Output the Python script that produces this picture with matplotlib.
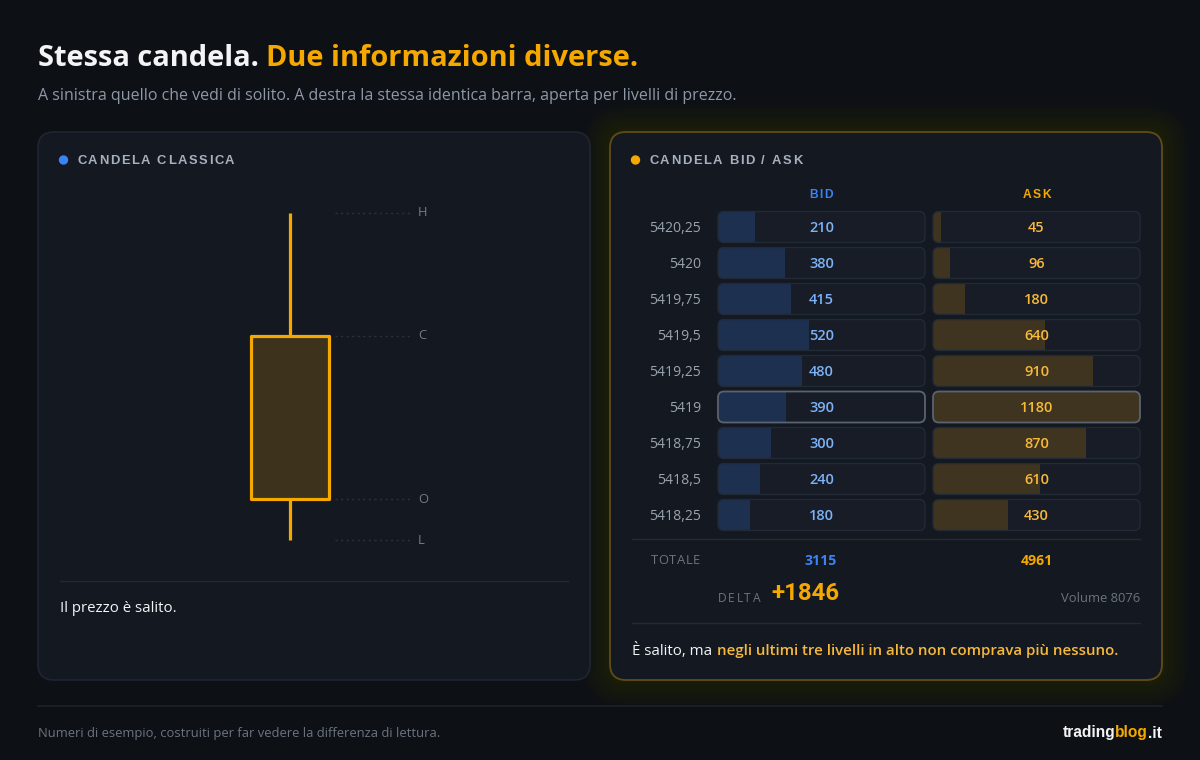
import matplotlib.pyplot as plt
from matplotlib.patches import FancyBboxPatch, Circle
from matplotlib.transforms import blended_transform_factory

# price levels of the candle, top to bottom
prices = ['5420,25', '5420', '5419,75', '5419,5', '5419,25', '5419', '5418,75', '5418,5', '5418,25']
bid = [210, 380, 415, 520, 480, 390, 300, 240, 180]
ask = [45, 96, 180, 640, 910, 1180, 870, 610, 430]
poc = '5419'

ohlc_labels = ['H', 'C', 'O', 'L']
ohlc_values = [5420.25, 5419.5, 5418.5, 5418.25]

BG = '#0d1015'
PANEL = '#131821'
EDGE = '#1f2632'
ORANGE = '#f5a800'
BLUE = '#3b82f6'
LBLUE = '#7cb2f7'
GOLD = '#f8b93a'
MUTED = '#6b7480'
SUB = '#8d98a8'
WHITE = '#f3f4f6'
HEAD = '#a7b0bd'

SANS = ['Open Sans', 'DejaVu Sans']
ARIAL = ['Liberation Sans', 'DejaVu Sans']
ROBOTO = ['Roboto', 'DejaVu Sans']

W, H = 1200, 760
fig = plt.figure(figsize=(12, 7.6), dpi=100, facecolor=BG)
ax = fig.add_axes([0, 0, 1, 1])
ax.set_xlim(0, W)
ax.set_ylim(H, 0)
ax.axis('off')
rend = fig.canvas.get_renderer()


def frac(x0, y0, x1, y1):
    return [x0 / W, 1 - y1 / H, (x1 - x0) / W, (y1 - y0) / H]


def pt(px):
    return px * 0.72


def put(x, y, s, size, color, weight='normal', family=SANS):
    t = ax.text(x, y, s, color=color, fontsize=pt(size), fontweight=weight,
                family=family, va='center', ha='left', zorder=4)
    return x + t.get_window_extent(rend).width


def tracked(x, y, s, size, color, family=ARIAL, weight='bold', track=1.2, ha='left'):
    widths = []
    for ch in s:
        if ch == ' ':
            widths.append(size * 0.28)
            continue
        t = ax.text(0, 0, ch, fontsize=pt(size), fontweight=weight, family=family)
        widths.append(t.get_window_extent(rend).width)
        t.remove()
    total = sum(widths) + track * (len(s) - 1)
    if ha == 'center':
        x -= total / 2
    elif ha == 'right':
        x -= total
    for ch, w in zip(s, widths):
        if ch != ' ':
            ax.text(x, y, ch, fontsize=pt(size), fontweight=weight, family=family,
                    color=color, va='center', ha='left', zorder=4)
        x += w + track


def rbox(x, y, w, h, r, **kw):
    p = FancyBboxPatch((x, y), w, h, boxstyle=f'round,pad=0,rounding_size={r}', **kw)
    ax.add_patch(p)
    return p


# title
x = put(38, 59, 'Stessa candela.', 29, WHITE, 'bold')
put(x + 7, 59, 'Due informazioni diverse.', 29, ORANGE, 'bold')
put(38, 96, 'A sinistra quello che vedi di solito. A destra la stessa identica barra, '
    'aperta per livelli di prezzo.', 16, SUB)

# panels
for k in range(1, 14):
    pad = k * 2.2
    rbox(610 - pad, 132 - pad, 552 + 2 * pad, 548 + 2 * pad, 16 + pad,
         fc=ORANGE, ec='none', alpha=0.006, zorder=0)
rbox(38, 132, 552, 548, 16, fc=PANEL, ec=EDGE, lw=1.2, zorder=1)
rbox(610, 132, 552, 548, 16, fc=PANEL, ec='#634b17', lw=1.3, zorder=1)

ax.add_patch(Circle((63.5, 160), 4, color=BLUE, zorder=3))
tracked(77, 161, 'CANDELA CLASSICA', 13, HEAD, track=1.6)
ax.add_patch(Circle((635.5, 160), 4, color=ORANGE, zorder=3))
tracked(649, 161, 'CANDELA BID / ASK', 13, HEAD, track=1.6)

# classic candle
ohlc = dict(zip(ohlc_labels, ohlc_values))
ax_c = fig.add_axes(frac(230, 213, 470, 540))
ax_c.set_xlim(0, 240)
ax_c.set_ylim(ohlc['L'], ohlc['H'])
ax_c.axis('off')
ax_c.hlines(ohlc_values, 105, 180, color='#2c333e', lw=1, linestyles=(0, (1.5, 2.5)), clip_on=False)
ax_c.vlines(60, ohlc['L'], ohlc['H'], color=ORANGE, lw=2.3, clip_on=False)
ax_c.bar(60, ohlc['C'] - ohlc['O'], bottom=ohlc['O'], width=78, color='#3d321b',
         edgecolor=ORANGE, linewidth=2.3, joinstyle='round', clip_on=False, zorder=3)
for lab, v in zip(ohlc_labels, ohlc_values):
    ax_c.text(188, v, lab, color='#737c88', fontsize=pt(13), family=SANS, va='center')

ax.plot([60, 568], [581, 581], color='#232a35', lw=1, zorder=2)
put(60, 609, 'Il prezzo è salito.', 15, WHITE)

# bid / ask ladder
tracked(821, 195, 'BID', 12, BLUE, ha='center', track=1.5)
tracked(1037, 195, 'ASK', 12, ORANGE, ha='center', track=1.5)

n = len(prices)
vmax = max(max(bid), max(ask))
ROW0, ROWH, CELLH = 209, 36, 31
columns = [(718, 925, bid, '#1e3050', LBLUE), (933, 1140, ask, '#3f3420', GOLD)]
sub_axes = []
for x0, x1, vals, barc, txtc in columns:
    cells = []
    for i in range(n):
        yc = ROW0 + ROWH * (i + 0.5)
        cells.append(rbox(x0, yc - CELLH / 2, x1 - x0, CELLH, 6, fc='#171c26', ec='none', zorder=2))
    a = fig.add_axes(frac(x0, ROW0, x1, ROW0 + ROWH * n))
    a.set_xlim(0, vmax)
    a.set_ylim(n - 0.5, -0.5)
    a.patch.set_visible(False)
    for s in a.spines.values():
        s.set_visible(False)
    a.set_xticks([])
    bars = a.barh(range(n), vals, height=CELLH / ROWH, color=barc)
    for b, c in zip(bars, cells):
        b.set_clip_path(c)
    for i, p in enumerate(prices):
        hl = p == poc
        yc = ROW0 + ROWH * (i + 0.5)
        a.add_patch(FancyBboxPatch((x0, yc - CELLH / 2), x1 - x0, CELLH,
                                   boxstyle='round,pad=0,rounding_size=6', fill=False,
                                   ec='#5b6270' if hl else '#222a36', lw=1.3 if hl else 1,
                                   transform=ax.transData, clip_on=False))
    tr = blended_transform_factory(a.transAxes, a.transData)
    for i, v in enumerate(vals):
        a.text(0.5, i + 0.03, str(v), transform=tr, ha='center', va='center', color=txtc,
               fontsize=pt(14.5), fontweight='semibold', family=SANS)
    sub_axes.append(a)

ax_b = sub_axes[0]
ax_b.set_yticks(range(n), prices)
ax_b.tick_params(axis='y', length=0, pad=pt(17), labelcolor='#9aa3ae', labelsize=pt(14))
for lb in ax_b.get_yticklabels():
    lb.set_family(SANS)
sub_axes[1].set_yticks([])

ax.plot([632, 1140], [539, 539], color='#232a35', lw=1, zorder=2)
tracked(651, 561, 'TOTALE', 13, MUTED, family=SANS, weight='normal', track=0.5)
ax.text(821, 561, str(sum(bid)), color=BLUE, fontsize=pt(14), fontweight='bold', family=SANS,
        ha='center', va='center', zorder=3)
ax.text(1037, 561, str(sum(ask)), color=ORANGE, fontsize=pt(14), fontweight='bold', family=SANS,
        ha='center', va='center', zorder=3)
tracked(718, 598, 'DELTA', 12, MUTED, family=SANS, weight='normal', track=1.6)
delta = sum(ask) - sum(bid)
ax.text(771, 594, f'{delta:+d}', color=ORANGE, fontsize=pt(24), fontweight='bold', family=ROBOTO,
        va='center', zorder=3)
ax.text(1140, 598, f'Volume {sum(bid) + sum(ask)}', color=MUTED, fontsize=pt(13), family=SANS,
        ha='right', va='center', zorder=3)
ax.plot([632, 1140], [623, 623], color='#232a35', lw=1, zorder=2)
x = put(632, 651, 'È salito, ma', 15, WHITE)
put(x + 4.5, 651, 'negli ultimi tre livelli in alto non comprava più nessuno.', 15, GOLD, 'semibold')

# footer
ax.plot([38, 1162], [706, 706], color='#1c222b', lw=1.2)
put(38, 734, 'Numeri di esempio, costruiti per far vedere la differenza di lettura.', 13, MUTED)
parts = [('trading', WHITE), ('blog', ORANGE), ('.it', WHITE)]
ws = []
for s, c in parts:
    t = ax.text(0, 0, s, fontsize=pt(15.5), fontweight='bold', family=ARIAL)
    ws.append(t.get_window_extent(rend).width)
    t.remove()
x = 1162 - sum(ws)
for (s, c), w in zip(parts, ws):
    ax.text(x, 733, s, color=c, fontsize=pt(15.5), fontweight='bold', family=ARIAL, va='center')
    x += w

fig.savefig('out.png', dpi=100, facecolor=BG)
